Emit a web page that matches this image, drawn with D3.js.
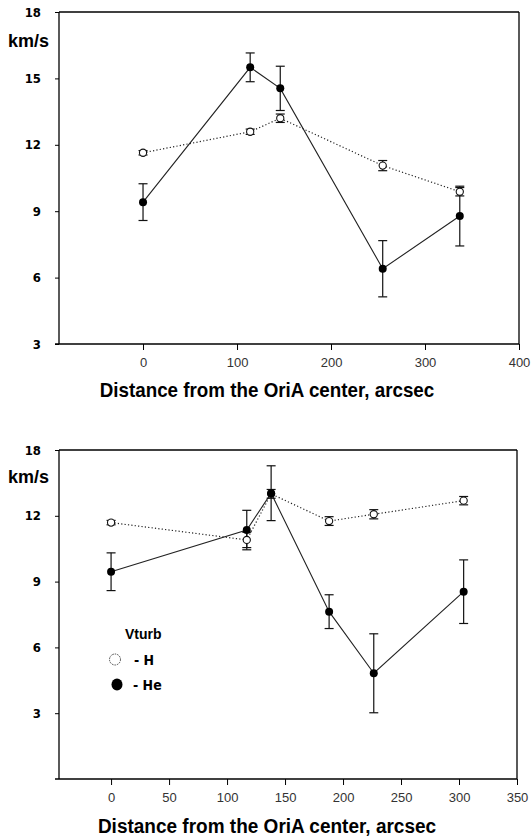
<!DOCTYPE html>
<html>
<head>
<meta charset="utf-8">
<script src="https://cdn.jsdelivr.net/npm/d3@7"></script>
<style>
  html, body { margin: 0; padding: 0; background: #fff; }
  svg { display: block; }
</style>
</head>
<body>
<svg id="chart" width="531" height="836"></svg>
<script>
// ---------- DATA ----------
// Top panel
const topX = [0, 114, 146, 255, 337];
const topH = [11.64, 12.59, 13.2, 11.06, 9.88];
const topHErr = [0.1, 0.12, 0.19, 0.23, 0.19];
const topHe = [9.41, 15.5, 14.55, 6.4, 8.78];
const topHeErr = [0.83, 0.65, 1.0, 1.27, 1.35];
const topXTicks = [0, 100, 200, 300, 400];
const topYTicks = [3, 6, 9, 12, 15, 18];
const topYTickLabels = ["3", "6", "9", "12", "15", "18"];

// Bottom panel
const botX = [0, 117, 138, 188, 226.5, 304];
const botH = [11.69, 10.9, 13.0, 11.76, 12.07, 12.69];
const botHErr = [0.1, 0.35, 0.2, 0.2, 0.21, 0.19];
const botHe = [9.45, 11.35, 13.03, 7.63, 4.82, 8.54];
const botHeErr = [0.86, 0.9, 1.25, 0.77, 1.8, 1.45];
const botXTicks = [0, 50, 100, 150, 200, 250, 300, 350];
const botYTicks = [3, 6, 9, 12, 15];
const botYTickLabels = ["3", "6", "9", "12", "18"];

const xTitle = "Distance from the OriA center, arcsec";
const yUnit = "km/s";
const legendTitle = "Vturb";
const seriesNames = ["- H", "- He"];

// ---------- DRAW ----------
const svg = d3.select("#chart");
const narrow = "'Liberation Sans Narrow', 'DejaVu Sans Condensed', 'Liberation Sans', Arial, sans-serif";
const sans = "'Liberation Sans', Arial, Helvetica, sans-serif";

function panel(cfg) {
  const g = svg.append("g");
  const x = d3.scaleLinear().domain(cfg.xDomain).range([cfg.left, cfg.right]);
  const y = d3.scaleLinear().domain(cfg.yDomain).range([cfg.bottom, cfg.top]);

  // frame: top and right
  g.append("line").attr("x1", cfg.left).attr("x2", cfg.right).attr("y1", cfg.top).attr("y2", cfg.top)
    .attr("stroke", "#000").attr("stroke-width", 1.3);
  g.append("line").attr("x1", cfg.right).attr("x2", cfg.right).attr("y1", cfg.top).attr("y2", cfg.bottom)
    .attr("stroke", "#000").attr("stroke-width", 1.3);

  // y axis
  const yAx = d3.axisLeft(y).tickValues(cfg.yTicks).tickSize(4).tickPadding(14)
    .tickFormat((d, i) => cfg.yTickLabels[i]);
  const ya = g.append("g").attr("transform", `translate(${cfg.left},0)`).call(yAx);
  ya.select(".domain").remove();
  ya.selectAll(".tick line").attr("stroke", "#000");
  ya.selectAll(".tick text").attr("font-family", narrow).attr("font-weight", "bold")
    .attr("font-size", 13).attr("fill", "#000");
  g.append("line").attr("x1", cfg.left).attr("x2", cfg.left).attr("y1", cfg.top).attr("y2", cfg.bottom)
    .attr("stroke", "#000").attr("stroke-width", 1.3);

  // x axis
  const xAx = d3.axisBottom(x).tickValues(cfg.xTicks).tickSize(6).tickPadding(8).tickFormat(d3.format("d"));
  const xa = g.append("g").attr("transform", `translate(0,${cfg.bottom})`).call(xAx);
  xa.select(".domain").remove();
  xa.selectAll(".tick line").attr("stroke", "#000");
  xa.selectAll(".tick text").attr("font-family", sans).attr("font-size", 13).attr("fill", "#333");
  g.append("line").attr("x1", cfg.left - 4).attr("x2", cfg.right).attr("y1", cfg.bottom).attr("y2", cfg.bottom)
    .attr("stroke", "#000").attr("stroke-width", 1.3);

  // y unit
  g.append("text").attr("x", 8).attr("y", cfg.unitY).text(yUnit)
    .attr("font-family", sans).attr("font-weight", "bold").attr("font-size", 18).attr("fill", "#000");

  // x title
  g.append("text").attr("transform", `translate(267,${cfg.titleY}) scale(1,1.1)`)
    .attr("text-anchor", "middle").text(xTitle)
    .attr("font-family", sans).attr("font-weight", "bold").attr("font-size", cfg.titleSize).attr("fill", "#000");

  const hePts = cfg.xs.map((d, i) => ({ x: d, y: cfg.he[i], e: cfg.heErr[i] }));
  const hPts = cfg.xs.map((d, i) => ({ x: d, y: cfg.h[i], e: cfg.hErr[i] }));
  const line = d3.line().x(d => x(d.x)).y(d => y(d.y));

  // He solid line
  g.append("path").datum(hePts).attr("d", line).attr("fill", "none")
    .attr("stroke", "#222").attr("stroke-width", 1.1);
  // H dotted line
  g.append("path").datum(hPts).attr("d", line).attr("fill", "none")
    .attr("stroke", "#222").attr("stroke-width", 1.2).attr("stroke-dasharray", "1.2,2.2");

  function errBars(pts) {
    const eb = g.append("g");
    pts.forEach(p => {
      const cx = x(p.x), y1 = y(p.y + p.e), y2 = y(p.y - p.e);
      eb.append("line").attr("x1", cx).attr("x2", cx).attr("y1", y1).attr("y2", y2).attr("stroke", "#111").attr("stroke-width", 1.2);
      eb.append("line").attr("x1", cx - 4.5).attr("x2", cx + 4.5).attr("y1", y1).attr("y2", y1).attr("stroke", "#111").attr("stroke-width", 1.2);
      eb.append("line").attr("x1", cx - 4.5).attr("x2", cx + 4.5).attr("y1", y2).attr("y2", y2).attr("stroke", "#111").attr("stroke-width", 1.2);
    });
  }
  errBars(hePts);
  errBars(hPts);

  g.append("g").selectAll("circle").data(hPts).join("circle")
    .attr("cx", d => x(d.x)).attr("cy", d => y(d.y)).attr("r", 3.6)
    .attr("fill", "#fff").attr("stroke", "#111").attr("stroke-width", 1.1);
  g.append("g").selectAll("circle").data(hePts).join("circle")
    .attr("cx", d => x(d.x)).attr("cy", d => y(d.y)).attr("r", 4)
    .attr("fill", "#000");

  return g;
}

panel({
  left: 59, right: 519, top: 12, bottom: 344,
  xDomain: [-89.4, 400], yDomain: [3, 18],
  xTicks: topXTicks, yTicks: topYTicks, yTickLabels: topYTickLabels,
  xs: topX, h: topH, hErr: topHErr, he: topHe, heErr: topHeErr,
  unitY: 46.5, titleY: 396.5, titleSize: 18.8
});

const bot = panel({
  left: 59, right: 517, top: 450, bottom: 779,
  xDomain: [-44.9, 350], yDomain: [0, 15],
  xTicks: botXTicks, yTicks: botYTicks, yTickLabels: botYTickLabels,
  xs: botX, h: botH, hErr: botHErr, he: botHe, heErr: botHeErr,
  unitY: 483.3, titleY: 833, titleSize: 19
});

// legend (bottom panel)
bot.append("text").attr("x", 125).attr("y", 639).text(legendTitle)
  .attr("font-family", sans).attr("font-weight", "bold").attr("font-size", 14).attr("fill", "#000");
bot.append("circle").attr("cx", 115).attr("cy", 659.5).attr("r", 5.5)
  .attr("fill", "#fff").attr("stroke", "#444").attr("stroke-width", 1).attr("stroke-dasharray", "1.5,1");
bot.append("text").attr("x", 134).attr("y", 664.5).text(seriesNames[0])
  .attr("font-family", narrow).attr("font-weight", "bold").attr("font-size", 14).attr("fill", "#000");
bot.append("ellipse").attr("cx", 117).attr("cy", 684.5).attr("rx", 5.5).attr("ry", 6)
  .attr("fill", "#000");
bot.append("text").attr("x", 133).attr("y", 690).text(seriesNames[1])
  .attr("font-family", narrow).attr("font-weight", "bold").attr("font-size", 14).attr("fill", "#000");
</script>
</body>
</html>
